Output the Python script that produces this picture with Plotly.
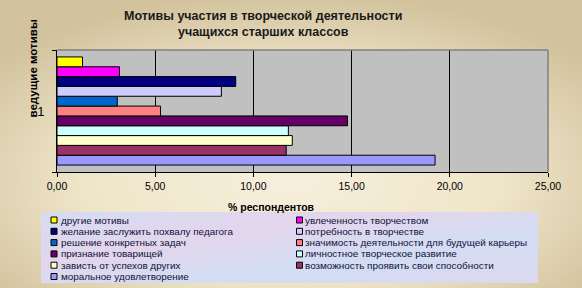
import base64
import plotly.graph_objects as go

# ---- data ----
categories = ["1"]
motives = [
    "другие мотивы",
    "увлеченность творчеством",
    "желание заслужить похвалу педагога",
    "потребность в творчестве",
    "решение конкретных задач",
    "значимость деятельности для будущей карьеры",
    "признание товарищей",
    "личностное творческое развитие",
    "зависть от успехов других",
    "возможность проявить свои способности",
    "моральное удовлетворение",
]
values = [1.30, 3.18, 9.10, 8.37, 3.07, 5.27, 14.79, 11.78, 11.98, 11.67, 19.25]
colors = ["#FFFF00", "#FF00FF", "#000080", "#CCCCFF", "#0066CC", "#FF8080",
          "#660066", "#CCFFFF", "#FFFFCC", "#993366", "#9999FF"]
x_ticks = [0, 5, 10, 15, 20, 25]
title_text = "Мотивы участия в творческой деятельности<br>учащихся старших классов"
x_title = "% респондентов"
y_title = "ведущие мотивы"

W, H = 582, 288
L, R, T, B = 57, 34, 50, 116
PW, PH = W - L - R, H - T - B


def px(xp):
    return (xp - L) / PW


def py(yp):
    return (H - B - yp) / PH


fig = go.Figure()
# Plotly draws the first trace of a group at the bottom -> add in reverse
for name, val, col in reversed(list(zip(motives, values, colors))):
    fig.add_trace(go.Bar(
        y=categories, x=[val], name=name, orientation="h",
        marker=dict(color=col, line=dict(color="black", width=1)),
        showlegend=False, hoverinfo="x+name",
    ))

# background vignette
svg = f'''<svg xmlns="http://www.w3.org/2000/svg" width="{W}" height="{H}">
<defs><radialGradient id="g" cx="50%" cy="62%" r="65%">
<stop offset="0%" stop-color="#F7EFDC"/>
<stop offset="55%" stop-color="#EFE5C9"/>
<stop offset="100%" stop-color="#D2C29D"/>
</radialGradient></defs>
<rect width="{W}" height="{H}" fill="url(#g)"/></svg>'''
src = "data:image/svg+xml;base64," + base64.b64encode(svg.encode()).decode()

leg_svg = '''<svg xmlns="http://www.w3.org/2000/svg" width="500" height="72">
<defs><linearGradient id="a" x1="0" y1="0" x2="1" y2="1">
<stop offset="0%" stop-color="#D6DBF2"/>
<stop offset="35%" stop-color="#E3D6EC"/>
<stop offset="65%" stop-color="#D2DDF3"/>
<stop offset="100%" stop-color="#DCD8EF"/>
</linearGradient></defs>
<rect width="500" height="72" fill="url(#a)"/></svg>'''
leg_src = "data:image/svg+xml;base64," + base64.b64encode(leg_svg.encode()).decode()

images = [
    dict(source=src, xref="paper", yref="paper", x=px(0), y=py(0),
         sizex=W / PW, sizey=H / PH, sizing="stretch", layer="below",
         xanchor="left", yanchor="top"),
    dict(source=leg_src, xref="paper", yref="paper", x=px(41), y=py(212),
         sizex=(538 - 41) / PW, sizey=(283 - 212) / PH, sizing="stretch",
         layer="below", xanchor="left", yanchor="top"),
]

shapes = [
    # plot area background
    dict(type="rect", xref="paper", yref="paper", x0=0, x1=1, y0=0, y1=1,
         fillcolor="#C0C0C0", line=dict(width=0), layer="below"),
    # top and right gray border
    dict(type="line", xref="paper", yref="paper", x0=0, x1=1, y0=1, y1=1,
         line=dict(color="#808080", width=1.5)),
    dict(type="line", xref="paper", yref="paper", x0=1, x1=1, y0=0, y1=1,
         line=dict(color="#808080", width=1.5)),
]

annotations = [
    dict(text="<b>" + title_text.replace("<br>", "</b><br><b>") + "</b>",
         xref="paper", yref="paper", x=px(263), y=py(23.5),
         xanchor="center", yanchor="middle", showarrow=False,
         font=dict(family="Liberation Sans, Arial", size=12.5, color="#1a1a1a")),
    dict(text="<b>" + x_title + "</b>", xref="paper", yref="paper", x=px(271), y=py(207),
         xanchor="center", yanchor="middle", showarrow=False,
         font=dict(family="Liberation Sans, Arial", size=10.5, color="black")),
    dict(text="<b>" + y_title + "</b>", xref="paper", yref="paper", x=px(32), y=py(68.5),
         xanchor="center", yanchor="middle", showarrow=False, textangle=-90,
         font=dict(family="Liberation Sans, Arial", size=11.5, color="black")),
]

# manual legend (two columns, row-major)
row_y = [220, 231.3, 242.6, 253.9, 265.2, 276.5]
col_mark = [54, 299.5]
col_text = [58.5, 303]
for i, (name, col) in enumerate(zip(motives, colors)):
    r, c = divmod(i, 2)
    yc = row_y[r]
    xm = col_mark[c]
    shapes.append(dict(type="rect", xref="paper", yref="paper",
                       x0=px(xm - 3), x1=px(xm + 3), y0=py(yc + 3), y1=py(yc - 3),
                       fillcolor=col, line=dict(color="black", width=1)))
    annotations.append(dict(text=name, xref="paper", yref="paper",
                            x=px(col_text[c]), y=py(yc), xanchor="left", yanchor="middle",
                            showarrow=False,
                            font=dict(family="Liberation Sans, Arial", size=9.9, color="#10103a")))

fig.update_layout(
    width=W, height=H,
    margin=dict(l=L, r=R, t=T, b=B, pad=0),
    paper_bgcolor="#EFE5C9", plot_bgcolor="rgba(0,0,0,0)",
    barmode="group", bargap=0.114, bargroupgap=0,
    separators=", ",
    showlegend=False,
    images=images, shapes=shapes, annotations=annotations,
    xaxis=dict(range=[0, 25], tickvals=x_ticks, tickformat=".2f",
               showgrid=True, gridcolor="black", gridwidth=1,
               showline=True, linecolor="black", linewidth=1,
               ticks="outside", ticklen=4, tickcolor="black",
               tickfont=dict(family="Liberation Sans, Arial", size=10.5, color="black"),
               zeroline=False, fixedrange=True),
    yaxis=dict(type="category", range=[-0.5, 0.5], tickson="boundaries",
               showgrid=False, showline=True, linecolor="black", linewidth=1,
               ticks="outside", ticklen=4, tickcolor="black",
               ticklabelstandoff=9,
               tickfont=dict(family="Liberation Sans, Arial", size=13, color="black"),
               zeroline=False, fixedrange=True),
)

fig.write_html(
    "out.html",
    config={"displayModeBar": False},
    post_script="document.body.style.margin='0px';document.body.style.overflow='hidden';",
)
